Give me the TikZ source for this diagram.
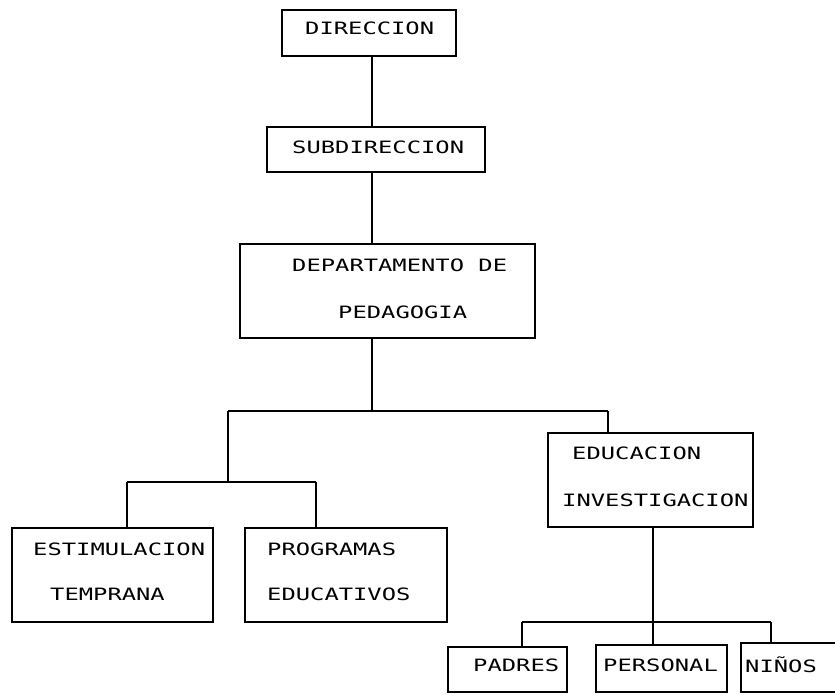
\documentclass[tikz,border=0pt]{standalone}
\usepackage{fontspec}
\newfontfamily\dotfont[FakeStretch=1.4]{DejaVu Sans Mono}
\begin{document}
\begin{tikzpicture}[x=1pt,y=-1pt,
  orgbox/.style={draw=black,line width=2pt,rectangle,inner sep=0pt},
  lbl/.style={anchor=west,inner sep=0pt,font=\dotfont\fontsize{17}{20}\selectfont},
  link/.style={draw=black,line width=2pt}]
\useasboundingbox (0,0) rectangle (835,694);
\clip (0,0) rectangle (835,694);

% boxes (centre, width, height)
\node[orgbox,minimum width=174,minimum height=46] (dir)  at (369,33) {};
\node[orgbox,minimum width=218,minimum height=45] (sub)  at (376,149.5) {};
\node[orgbox,minimum width=295,minimum height=94] (dep)  at (387.5,291) {};
\node[orgbox,minimum width=201,minimum height=94] (est)  at (112.5,575) {};
\node[orgbox,minimum width=202,minimum height=94] (prog) at (346,575) {};
\node[orgbox,minimum width=205,minimum height=94] (edu)  at (650.5,480) {};
\node[orgbox,minimum width=119,minimum height=45] (pad)  at (507.5,669.5) {};
\node[orgbox,minimum width=131,minimum height=47] (per)  at (661.5,668.5) {};
\node[orgbox,minimum width=110,minimum height=49] (nin)  at (796,667.5) {};

% labels
\node[lbl] (dirt)  at (305,28)  {DIRECCION};
\node[lbl] (subt)  at (292,147) {SUBDIRECCION};
\node[lbl] (dept1) at (292,265) {DEPARTAMENTO DE};
\node[lbl] (dept2) at (338,312) {PEDAGOGIA};
\node[lbl] (edut1) at (572,453) {EDUCACION};
\node[lbl] (edut2) at (562,500) {INVESTIGACION};
\node[lbl] (estt1) at (33,549)  {ESTIMULACION};
\node[lbl] (estt2) at (50,594)  {TEMPRANA};
\node[lbl] (prot1) at (267,549) {PROGRAMAS};
\node[lbl] (prot2) at (267,594) {EDUCATIVOS};
\node[lbl] (padt)  at (473,665) {PADRES};
\node[lbl] (pert)  at (603,665) {PERSONAL};
\node[lbl] (nint)  at (745,665) {NIÑOS};

% junction points
\coordinate (spine) at (372,0);
\coordinate (jA)  at (372,411);
\coordinate (jAL) at (228,411);
\coordinate (jAR) at (608,411);
\coordinate (jB)  at (228,482);
\coordinate (jBL) at (127,482);
\coordinate (jBR) at (316,482);
\coordinate (jC)  at (653,622);
\coordinate (jCL) at (522,622);
\coordinate (jCR) at (771,622);

% connectors
\draw[link] (dir.south -| spine) -- (sub.north -| spine);
\draw[link] (sub.south -| spine) -- (dep.north -| spine);
\draw[link] (dep.south -| jA) -- (jA);
\draw[link] (jAL) -- (jAR);
\draw[link] (jAR) -- (jAR |- edu.north);
\draw[link] (jAL) -- (jB);
\draw[link] (jBL) -- (jBR);
\draw[link] (jBL) -- (jBL |- est.north);
\draw[link] (jBR) -- (jBR |- prog.north);
\draw[link] (edu.south -| jC) -- (jC |- per.north);
\draw[link] (jCL) -- (jCR);
\draw[link] (jCL) -- (jCL |- pad.north);
\draw[link] (jCR) -- (jCR |- nin.north);
\end{tikzpicture}
\end{document}
